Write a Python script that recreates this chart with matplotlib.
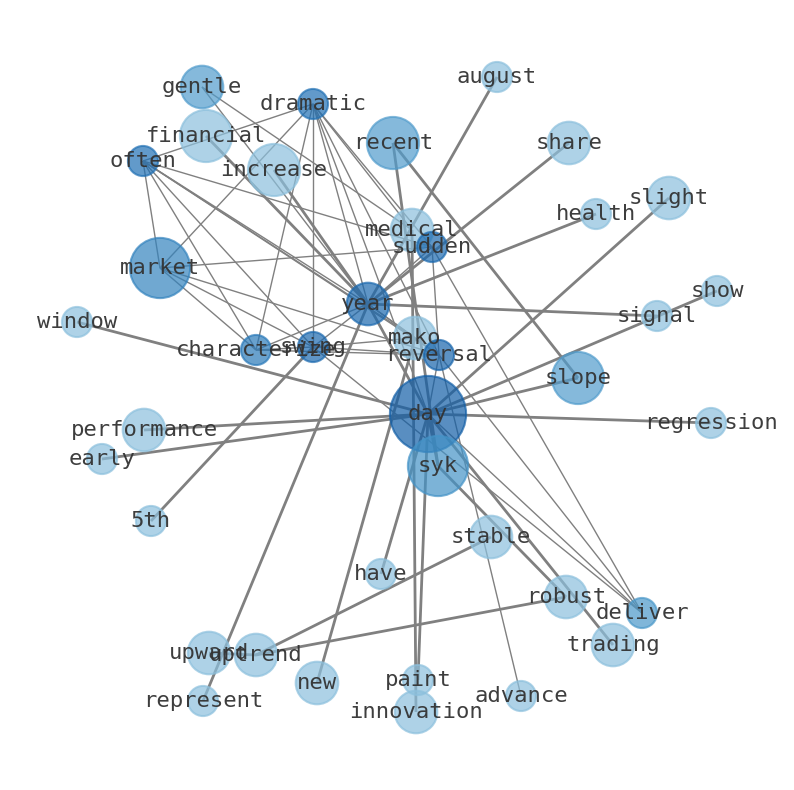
import matplotlib
matplotlib.use("Agg")
import matplotlib.pyplot as plt
from matplotlib import cm

# word nodes: layout position (x, y), frequency, centrality
words = ["gentle", "dramatic", "financial", "often", "increase", "recent", "august",
         "share", "slight", "health", "medical", "sudden", "market", "year", "show",
         "signal", "window", "characterize", "swing", "mako", "reversal", "slope",
         "day", "regression", "performance", "early", "syk", "5th", "stable", "have",
         "robust", "deliver", "trading", "upward", "uptrend", "new", "paint",
         "advance", "represent", "innovation"]
pos_x = [202, 313, 206, 143, 274, 393, 497, 569, 669, 596, 412, 432, 160, 368, 717,
         657, 77, 256, 313, 415, 439, 578, 428, 711, 144, 102, 438, 151, 491, 381,
         566, 642, 613, 209, 256, 317, 418, 521, 203, 416]
pos_y = [87, 104, 136, 161, 170, 143, 77, 143, 198, 214, 230, 247, 268, 304, 291,
         316, 322, 350, 347, 338, 355, 378, 414, 423, 430, 459, 466, 521, 537, 574,
         597, 613, 645, 653, 655, 683, 680, 696, 701, 712]
freq = [2, 1, 3, 1, 3, 3, 1, 2, 2, 1, 2, 1, 4, 2, 1, 1, 1, 1, 1, 2, 1, 3, 6.4, 1,
        2, 1, 4, 1, 2, 1, 2, 1, 2, 2, 2, 2, 1, 1, 1, 2]
centrality = [0.58, 0.75, 0.42, 0.75, 0.42, 0.58, 0.42, 0.42, 0.42, 0.42, 0.42, 0.78,
              0.68, 0.78, 0.42, 0.42, 0.42, 0.72, 0.78, 0.42, 0.8, 0.58, 0.82, 0.42,
              0.42, 0.42, 0.62, 0.42, 0.42, 0.42, 0.42, 0.6, 0.42, 0.42, 0.42, 0.42,
              0.42, 0.42, 0.42, 0.42]

# weak co-occurrences
weak_edges = [
    ("often", "dramatic"), ("often", "market"), ("often", "characterize"),
    ("often", "swing"), ("often", "year"), ("often", "sudden"), ("often", "reversal"),
    ("often", "mako"),
    ("dramatic", "market"), ("dramatic", "characterize"), ("dramatic", "swing"),
    ("dramatic", "year"), ("dramatic", "medical"), ("dramatic", "reversal"),
    ("dramatic", "day"), ("dramatic", "sudden"),
    ("market", "sudden"), ("market", "characterize"), ("market", "swing"),
    ("market", "reversal"),
    ("characterize", "swing"), ("characterize", "year"), ("characterize", "reversal"),
    ("swing", "year"), ("swing", "reversal"), ("swing", "deliver"), ("swing", "mako"),
    ("year", "sudden"), ("year", "reversal"), ("year", "mako"),
    ("sudden", "reversal"), ("sudden", "deliver"),
    ("reversal", "deliver"), ("reversal", "advance"), ("reversal", "day"),
    ("gentle", "medical"), ("gentle", "year"), ("day", "deliver"),
]
# strong co-occurrences
strong_edges = [
    ("day", "window"), ("day", "performance"), ("day", "early"), ("day", "regression"),
    ("day", "slope"), ("day", "slight"), ("day", "show"), ("day", "have"),
    ("day", "paint"), ("day", "syk"), ("day", "trading"), ("day", "year"),
    ("year", "august"), ("year", "share"), ("year", "health"), ("year", "signal"),
    ("year", "represent"), ("year", "financial"), ("year", "increase"),
    ("swing", "5th"), ("mako", "new"), ("medical", "innovation"),
    ("recent", "slope"), ("recent", "syk"),
    ("uptrend", "stable"), ("uptrend", "robust"), ("uptrend", "upward"),
    ("syk", "robust"),
]

idx = {w: i for i, w in enumerate(words)}

fig = plt.figure(figsize=(7.94, 7.90), dpi=100)
ax = fig.add_axes([0, 0, 1, 1])

for edges, lw in [(weak_edges, 1.0), (strong_edges, 2.0)]:
    for a, b in edges:
        i, j = idx[a], idx[b]
        ax.plot([pos_x[i], pos_x[j]], [pos_y[i], pos_y[j]], color="gray",
                linewidth=lw, zorder=1, solid_capstyle="butt")

colors = [cm.Blues(c) for c in centrality]
sizes = [470 * f for f in freq]
ax.scatter(pos_x, pos_y, s=sizes, c=colors, edgecolors=colors, linewidths=1.5,
           alpha=0.7, zorder=2)

for i, w in enumerate(words):
    ax.text(pos_x[i], pos_y[i], w, family="DejaVu Sans Mono", fontsize=16,
            color="#333333", alpha=0.95, ha="center", va="center", zorder=3)

ax.set_xlim(0, 794)
ax.set_ylim(790, 0)
ax.axis("off")
fig.savefig("out.png", dpi=100)
